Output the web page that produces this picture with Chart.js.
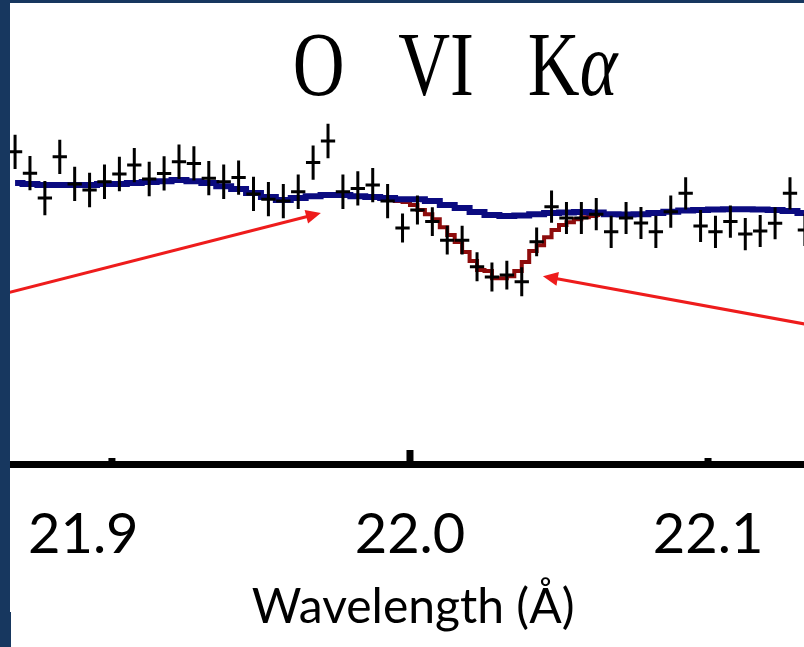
<!DOCTYPE html>
<html>
<head>
<meta charset="utf-8">
<script src="https://cdn.jsdelivr.net/npm/chart.js@4.4.1/dist/chart.umd.min.js"></script>
<style>
  html, body { margin: 0; padding: 0; background: #ffffff; overflow: hidden; }
  #wrap { position: relative; width: 804px; height: 647px; }
  canvas { display: block; }
  .frame { position: absolute; background: #17375f; }
</style>
</head>
<body>
<div id="wrap">
  <canvas id="spectrum" width="804" height="647"></canvas>
  <div class="frame" style="left:0;top:0;width:10px;height:647px"></div>
  <div class="frame" style="left:0;top:0;width:804px;height:3px"></div>
  <div class="frame" style="left:0;top:612px;width:11px;height:35px"></div>
</div>
<script>
// Observed spectrum: bin centres (Å), normalised flux and 1-sigma errors
const wavelength = [
  21.8675, 21.8725, 21.8775, 21.8825, 21.8875, 21.8925, 21.8975, 21.9025, 21.9075, 21.9125,
  21.9175, 21.9225, 21.9275, 21.9325, 21.9375, 21.9425, 21.9475, 21.9525, 21.9575, 21.9625,
  21.9675, 21.9725, 21.9775, 21.9825, 21.9875, 21.9925, 21.9975, 22.0025, 22.0075, 22.0125,
  22.0175, 22.0225, 22.0275, 22.0325, 22.0375, 22.0425, 22.0475, 22.0525, 22.0575, 22.0625,
  22.0675, 22.0725, 22.0775, 22.0825, 22.0875, 22.0925, 22.0975, 22.1025, 22.1075, 22.1125,
  22.1175, 22.1225, 22.1275, 22.1325
];
const flux = [
  1.120, 1.043, 0.953, 1.102, 1.004, 0.982, 1.012, 1.040, 1.072, 1.022,
  1.042, 1.084, 1.078, 1.025, 1.012, 1.027, 0.968, 0.949, 0.942, 0.976,
  1.081, 1.159, 0.976, 0.988, 1.000, 0.942, 0.845, 0.910, 0.868, 0.801,
  0.801, 0.705, 0.668, 0.675, 0.651, 0.795, 0.922, 0.881, 0.881, 0.895,
  0.831, 0.881, 0.863, 0.831, 0.904, 0.970, 0.852, 0.831, 0.868, 0.823,
  0.834, 0.862, 0.970, 0.838
];
const fluxErr = [
  0.062, 0.062, 0.062, 0.062, 0.062, 0.062, 0.062, 0.062, 0.062, 0.062,
  0.062, 0.062, 0.062, 0.062, 0.062, 0.062, 0.062, 0.062, 0.062, 0.062,
  0.062, 0.062, 0.062, 0.062, 0.062, 0.062, 0.052, 0.052, 0.052, 0.052,
  0.052, 0.052, 0.052, 0.052, 0.052, 0.052, 0.058, 0.058, 0.058, 0.058,
  0.058, 0.058, 0.058, 0.058, 0.058, 0.058, 0.058, 0.058, 0.058, 0.058,
  0.058, 0.058, 0.058, 0.058
];

// Continuum model on the same bins
const continuumModel = [
  1.007, 1.004, 1.000, 1.000, 1.000, 1.000, 1.004, 1.004, 1.007, 1.011,
  1.014, 1.018, 1.014, 1.007, 0.996, 0.986, 0.971, 0.957, 0.946, 0.953,
  0.960, 0.964, 0.964, 0.960, 0.957, 0.953, 0.949, 0.949, 0.942, 0.928,
  0.917, 0.903, 0.892, 0.888, 0.890, 0.895, 0.899, 0.901, 0.903, 0.901,
  0.895, 0.894, 0.895, 0.899, 0.904, 0.908, 0.910, 0.912, 0.913, 0.913,
  0.912, 0.910, 0.906, 0.899
];

// Model including the O VI K-alpha absorption line (finer binning)
const lineWavelength = [
  21.99375, 21.99625, 21.99875, 22.00125, 22.00375, 22.00625, 22.00875, 22.01125, 22.01375, 22.01625,
  22.01875, 22.02125, 22.02375, 22.02625, 22.02875, 22.03125, 22.03375, 22.03625, 22.03875, 22.04125,
  22.04375, 22.04625, 22.04875, 22.05125, 22.05375, 22.05625, 22.05875, 22.06125, 22.06375
];
const lineModel = [
  0.946, 0.942, 0.939, 0.928, 0.910, 0.895, 0.877, 0.848, 0.820, 0.794,
  0.758, 0.726, 0.693, 0.690, 0.664, 0.664, 0.671, 0.690, 0.722, 0.762,
  0.783, 0.812, 0.838, 0.856, 0.866, 0.877, 0.884, 0.888, 0.892
];

// Axis ticks
const tickValues = [21.9, 22.0, 22.1];
const tickLabels = ['21.9', '22.0', '22.1'];

// Pointer arrows: [tail wavelength, tail flux] -> [head wavelength, head flux]
const arrows = [
  { from: [21.8624, 0.604], to: [21.9701, 0.899] },
  { from: [22.1342, 0.495], to: [22.0446, 0.671] }
];

const titleText = { main: 'O   VI   K', greek: 'α', at: [22.0151, 1.325] };

const errorBars = {
  id: 'errorBars',
  afterDatasetsDraw(chart, args, opts) {
    const { ctx, chartArea } = chart;
    const x = chart.scales.x, y = chart.scales.y;
    ctx.save();
    ctx.beginPath();
    ctx.rect(chartArea.left, 0, chartArea.right - chartArea.left, chart.height);
    ctx.clip();
    ctx.strokeStyle = opts.color;
    ctx.lineWidth = opts.width;
    ctx.lineCap = 'butt';
    wavelength.forEach((w, i) => {
      const px = x.getPixelForValue(w);
      const py = y.getPixelForValue(flux[i]);
      ctx.beginPath();
      ctx.moveTo(x.getPixelForValue(w - opts.halfBar), py);
      ctx.lineTo(x.getPixelForValue(w + opts.halfBar), py);
      ctx.moveTo(px, y.getPixelForValue(flux[i] + fluxErr[i]));
      ctx.lineTo(px, y.getPixelForValue(flux[i] - fluxErr[i]));
      ctx.stroke();
    });
    ctx.restore();
  }
};

const innerTicks = {
  id: 'innerTicks',
  afterDraw(chart, args, opts) {
    const { ctx } = chart;
    const x = chart.scales.x;
    const base = chart.chartArea.bottom;
    ctx.save();
    ctx.fillStyle = opts.color;
    x.ticks.forEach((t, i) => {
      const px = x.getPixelForValue(t.value);
      const len = opts.lengths[i];
      ctx.fillRect(px - opts.width / 2, base - len, opts.width, len);
    });
    ctx.restore();
  }
};

const arrowLayer = {
  id: 'arrowLayer',
  afterDatasetsDraw(chart, args, opts) {
    const { ctx } = chart;
    const x = chart.scales.x, y = chart.scales.y;
    ctx.save();
    ctx.strokeStyle = opts.color;
    ctx.fillStyle = opts.color;
    ctx.lineWidth = opts.width;
    arrows.forEach(a => {
      const x0 = x.getPixelForValue(a.from[0]), y0 = y.getPixelForValue(a.from[1]);
      const x1 = x.getPixelForValue(a.to[0]), y1 = y.getPixelForValue(a.to[1]);
      const ang = Math.atan2(y1 - y0, x1 - x0);
      const bx = x1 - opts.headLen * Math.cos(ang), by = y1 - opts.headLen * Math.sin(ang);
      ctx.beginPath();
      ctx.moveTo(x0, y0);
      ctx.lineTo(bx + 2 * Math.cos(ang), by + 2 * Math.sin(ang));
      ctx.stroke();
      ctx.beginPath();
      ctx.moveTo(x1, y1);
      ctx.lineTo(bx + opts.headHalf * Math.sin(ang), by - opts.headHalf * Math.cos(ang));
      ctx.lineTo(bx - opts.headHalf * Math.sin(ang), by + opts.headHalf * Math.cos(ang));
      ctx.closePath();
      ctx.fill();
    });
    ctx.restore();
  }
};

const lineTitle = {
  id: 'lineTitle',
  afterDraw(chart, args, opts) {
    const { ctx } = chart;
    const x = chart.scales.x, y = chart.scales.y;
    const cx = x.getPixelForValue(titleText.at[0]);
    const by = y.getPixelForValue(titleText.at[1]);
    ctx.save();
    ctx.fillStyle = '#000';
    ctx.textBaseline = 'alphabetic';
    ctx.textAlign = 'left';
    const upright = opts.size + 'px "Liberation Serif", "DejaVu Serif", serif';
    const italic = 'italic ' + upright;
    ctx.font = upright;
    const w1 = ctx.measureText(titleText.main).width;
    ctx.font = italic;
    const w2 = ctx.measureText(titleText.greek).width;
    const total = (w1 + w2) * opts.squeeze;
    ctx.translate(cx - total / 2, by);
    ctx.scale(opts.squeeze, 1);
    ctx.font = upright;
    ctx.fillText(titleText.main, 0, 0);
    ctx.font = italic;
    ctx.fillText(titleText.greek, w1, 0);
    ctx.restore();
  }
};

new Chart(document.getElementById('spectrum'), {
  type: 'line',
  data: {
    datasets: [
      {
        label: 'Data',
        type: 'scatter',
        data: wavelength.map((w, i) => ({ x: w, y: flux[i] })),
        pointRadius: 0,
        showLine: false,
        order: 0
      },
      {
        label: 'Continuum',
        data: wavelength.map((w, i) => ({ x: w, y: continuumModel[i] })),
        borderColor: '#0b0b80',
        borderWidth: 6,
        stepped: 'middle',
        pointRadius: 0,
        fill: false,
        order: 1
      },
      {
        label: 'O VI Kα absorption',
        data: lineWavelength.map((w, i) => ({ x: w, y: lineModel[i] })),
        borderColor: '#8e0c0c',
        borderWidth: 4,
        stepped: 'middle',
        pointRadius: 0,
        fill: false,
        order: 2
      }
    ]
  },
  options: {
    responsive: false,
    animation: false,
    events: [],
    layout: { padding: { top: 5, left: 10, right: 0, bottom: 0 } },
    scales: {
      x: {
        type: 'linear',
        min: 21.8658,
        max: 22.1322,
        afterBuildTicks: s => { s.ticks = tickValues.map(v => ({ value: v })); },
        afterFit: s => { s.height = 183; s.paddingLeft = 0; s.paddingRight = 0; },
        border: { display: true, color: '#000', width: 7 },
        grid: { display: true, drawOnChartArea: false, drawTicks: false, color: 'rgba(0,0,0,0)' },
        ticks: {
          autoSkip: false,
          maxRotation: 0,
          padding: 37,
          color: '#000',
          font: { family: 'Lato', size: 56 },
          callback: (v, i) => i === 0 ? tickLabels[i] + '    ' : tickLabels[i]
        },
        title: {
          display: true,
          text: ' Wavelength (Å)',
          color: '#000',
          font: { family: 'Lato', size: 48 },
          padding: { top: 0, bottom: 11 }
        }
      },
      y: {
        display: false,
        min: -0.007,
        max: 1.65
      }
    },
    plugins: {
      legend: { display: false },
      tooltip: { enabled: false },
      errorBars: { color: '#000', width: 3, halfBar: 0.0024 },
      innerTicks: { color: '#000', width: 7, lengths: [6, 14, 6] },
      arrowLayer: { color: '#ee1c1c', width: 3, headLen: 15, headHalf: 7 },
      lineTitle: { size: 92, squeeze: 0.78 }
    }
  },
  plugins: [errorBars, arrowLayer, innerTicks, lineTitle]
});
</script>
</body>
</html>
